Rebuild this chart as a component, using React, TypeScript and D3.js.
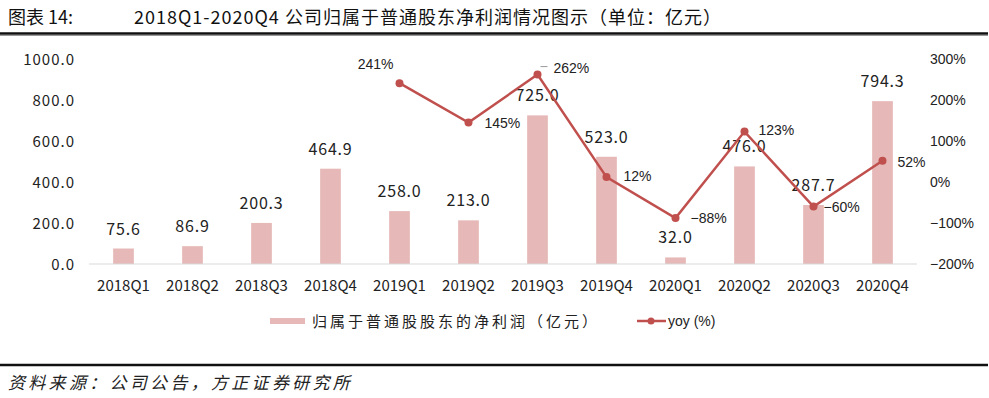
import * as d3 from "d3";

const quarters = [
  "2018Q1", "2018Q2", "2018Q3", "2018Q4",
  "2019Q1", "2019Q2", "2019Q3", "2019Q4",
  "2020Q1", "2020Q2", "2020Q3", "2020Q4",
];
const profit = [75.6, 86.9, 200.3, 464.9, 258.0, 213.0, 725.0, 523.0, 32.0, 476.0, 287.7, 794.3];
// yoy starts from 2019Q1
const yoyQuarters = ["2019Q1", "2019Q2", "2019Q3", "2019Q4", "2020Q1", "2020Q2", "2020Q3", "2020Q4"];
const yoy = [241, 145, 262, 12, -88, 123, -60, 52];
const leftTicks = [0, 200, 400, 600, 800, 1000];
const rightTicks = [-200, -100, 0, 100, 200, 300];

// label placement relative to each yoy point
const yoyLabelOffsets = [
  { dx: -6, dy: -14, anchor: "end" },
  { dx: 16, dy: 5, anchor: "start" },
  { dx: 16, dy: -2, anchor: "start" },
  { dx: 17, dy: 4, anchor: "start" },
  { dx: 15, dy: 5, anchor: "start" },
  { dx: 14, dy: 3, anchor: "start" },
  { dx: 10, dy: 5, anchor: "start" },
  { dx: 15, dy: 6, anchor: "start" },
];

const W = 989;
const H = 398;
const BAR = "#e6b9b8";
const LINE = "#c0504d";
const CJK = "'Noto Sans CJK SC', sans-serif";
const LAT = "'Liberation Sans', Arial, sans-serif";

export default function App() {
  const x = d3.scaleBand().domain(quarters).range([89, 917]).paddingInner(0.7).paddingOuter(0.35);
  const xc = (q: string) => (x(q) ?? 0) + x.bandwidth() / 2;
  const yL = d3.scaleLinear().domain([0, 1000]).range([264, 59]);
  const yR = d3.scaleLinear().domain([-200, 300]).range([264, 59]);

  const line = d3
    .line<number>()
    .x((_, i) => xc(yoyQuarters[i]))
    .y((d) => yR(d));

  return (
    <svg
      width={W}
      height={H}
      style={{ position: "absolute", left: 0, top: 0, background: "#fff" }}
    >
      {/* title */}
      <text x={8} y={24} fontFamily={CJK} fontSize={18} fill="#111">图表 14:</text>
      <text x={134} y={24} fontFamily={CJK} fontSize={18} letterSpacing={1} fill="#111">
        2018Q1-2020Q4 公司归属于普通股东净利润情况图示（单位：亿元）
      </text>
      <line x1={0} x2={988} y1={33.5} y2={33.5} stroke="#111" strokeWidth={2.5} />
      <line x1={0} x2={988} y1={35.5} y2={35.5} stroke="#999" strokeWidth={1} />

      {/* left axis */}
      {leftTicks.map((t) => (
        <text key={t} x={75} y={yL(t) + 6} textAnchor="end" fontFamily={CJK} fontSize={15} letterSpacing={1} fill="#222">
          {t.toFixed(1)}
        </text>
      ))}
      {/* right axis */}
      {rightTicks.map((t) => (
        <text key={t} x={930} y={yR(t) + 5} fontFamily={LAT} fontSize={14} fill="#222">
          {t < 0 ? "\u2212" + Math.abs(t) : t}%
        </text>
      ))}

      {/* bars */}
      {quarters.map((q, i) => (
        <rect key={q} x={x(q)} y={yL(profit[i])} width={x.bandwidth()} height={yL(0) - yL(profit[i])} fill={BAR} />
      ))}
      <line x1={89} x2={917} y1={yL(0)} y2={yL(0)} stroke="#d9d9d9" strokeWidth={1} />

      {/* bar labels */}
      {quarters.map((q, i) => (
        <text key={q} x={xc(q)} y={yL(profit[i]) - 14} textAnchor="middle" fontFamily={CJK} fontSize={16} letterSpacing={0.8} fill="#222">
          {profit[i].toFixed(1)}
        </text>
      ))}

      {/* x labels */}
      {quarters.map((q) => (
        <text key={q} x={xc(q)} y={291} textAnchor="middle" fontFamily={CJK} fontSize={15} fill="#222">
          {q}
        </text>
      ))}

      {/* yoy line */}
      <path d={line(yoy) ?? ""} fill="none" stroke={LINE} strokeWidth={2.5} />
      {yoy.map((v, i) => (
        <circle key={i} cx={xc(yoyQuarters[i])} cy={yR(v)} r={4} fill={LINE} />
      ))}
      <line x1={xc("2019Q3") + 3} x2={xc("2019Q3") + 10} y1={yR(262) - 8} y2={yR(262) - 8} stroke="#999" strokeWidth={1} />
      {yoy.map((v, i) => {
        const o = yoyLabelOffsets[i];
        return (
          <text key={i} x={xc(yoyQuarters[i]) + o.dx} y={yR(v) + o.dy} textAnchor={o.anchor} fontFamily={LAT} fontSize={14} fill="#222">
            {v < 0 ? "\u2212" + Math.abs(v) : v}%
          </text>
        );
      })}

      {/* legend */}
      <rect x={270} y={318} width={35} height={6} fill={BAR} />
      <text x={312} y={327} fontFamily={CJK} fontSize={15} letterSpacing={3} fill="#222">
        归属于普通股股东的净利润（亿元）
      </text>
      <line x1={637} x2={666} y1={321} y2={321} stroke={LINE} strokeWidth={2.5} />
      <circle cx={651} cy={321} r={3.5} fill={LINE} />
      <text x={668} y={326} fontFamily={LAT} fontSize={14} fill="#222">yoy (%)</text>

      {/* footer */}
      <line x1={0} x2={988} y1={365} y2={365} stroke="#111" strokeWidth={2.5} />
      <text x={8} y={389} fontFamily={CJK} fontSize={17} letterSpacing={3.3} fontStyle="italic" fill="#222">
        资料来源：公司公告，方正证券研究所
      </text>
    </svg>
  );
}
